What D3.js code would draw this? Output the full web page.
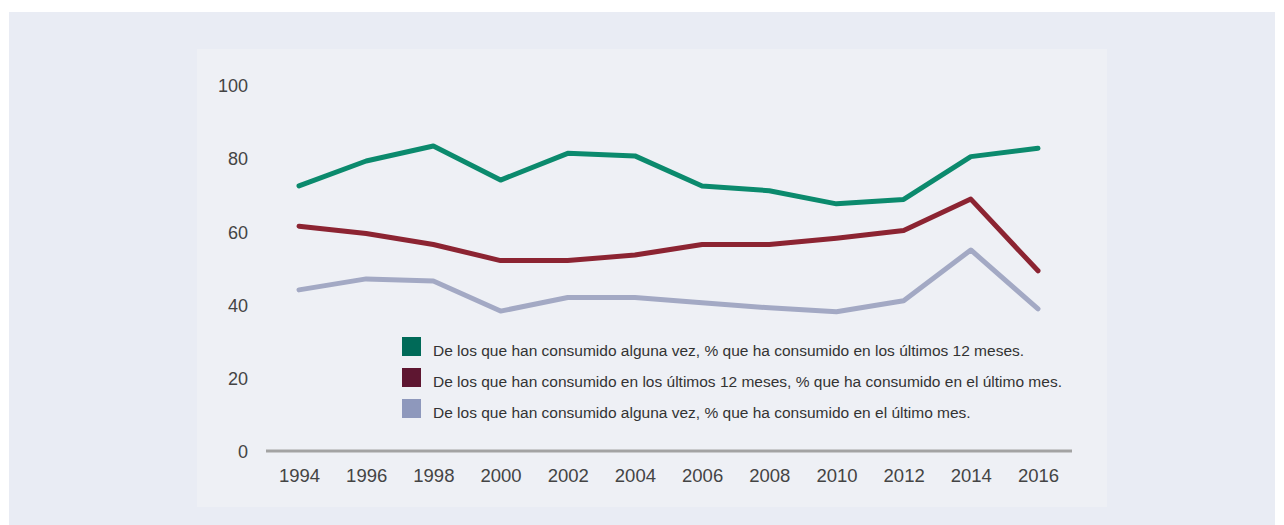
<!DOCTYPE html>
<html><head><meta charset="utf-8">
<script src="https://cdn.jsdelivr.net/npm/d3@7"></script>
<style>
html,body{margin:0;padding:0;background:#fff;}
svg{display:block;font-family:"Liberation Sans",Arial,Helvetica,sans-serif;}
</style></head>
<body>
<svg id="chart" width="1284" height="525"></svg>
<script>
const years = [1994,1996,1998,2000,2002,2004,2006,2008,2010,2012,2014,2016];
const serieAnual = [72.7,79.5,83.6,74.3,81.6,80.9,72.7,71.4,67.8,69.0,80.7,83.0];
const serieMesDeAnual = [61.7,59.7,56.7,52.3,52.3,53.8,56.7,56.7,58.4,60.5,69.1,49.5];
const serieMes = [44.3,47.3,46.7,38.5,42.2,42.2,40.8,39.4,38.3,41.3,55.2,39.1];
const yTicks = [0,20,40,60,80,100];
const legendLabels = [
  "De los que han consumido alguna vez, % que ha consumido en los últimos 12 meses.",
  "De los que han consumido en los últimos 12 meses, % que ha consumido en el último mes.",
  "De los que han consumido alguna vez, % que ha consumido en el último mes."
];
const lineColors = ["#0b8a6d","#8c2432","#a3a9c4"];
const swatchColors = ["#006a58","#5e1631","#8e98bc"];

const svg = d3.select("#chart");
svg.append("rect").attr("x",9).attr("y",12).attr("width",1266).attr("height",513).attr("fill","#e9ecf4");
svg.append("rect").attr("x",197).attr("y",49).attr("width",910).attr("height",458).attr("fill","#eef0f5");

const x = d3.scalePoint().domain(years).range([299,1038]);
const y = d3.scaleLinear().domain([0,100]).range([452,86]);

// baseline
svg.append("line").attr("x1",266).attr("x2",1072).attr("y1",y(0)-1).attr("y2",y(0)-1)
  .attr("stroke","#a3a3a3").attr("stroke-width",3);

// y labels
const yAxis = d3.axisLeft(y).tickValues(yTicks).tickSize(0).tickPadding(0);
const gy = svg.append("g").attr("transform","translate(248,0)").call(yAxis);
gy.select(".domain").remove();
gy.selectAll("text").attr("font-size",18).attr("fill","#444").attr("font-family","Liberation Sans, Arial, sans-serif");

// x labels
const xAxis = d3.axisBottom(x).tickSize(0).tickPadding(0).tickFormat(d3.format("d"));
const gx = svg.append("g").attr("transform","translate(0,469)").call(xAxis);
gx.select(".domain").remove();
gx.selectAll("text").attr("font-size",18.5).attr("fill","#444").attr("font-family","Liberation Sans, Arial, sans-serif");

const series = [serieAnual, serieMesDeAnual, serieMes];
const line = d3.line().x((d,i)=>x(years[i])).y(d=>y(d));
series.slice().reverse().forEach((s,k)=>{
  const i = series.length-1-k;
  svg.append("path").datum(s).attr("d",line).attr("fill","none")
    .attr("stroke",lineColors[i]).attr("stroke-width",5)
    .attr("stroke-linejoin","round").attr("stroke-linecap","round");
});

// legend
const lg = svg.append("g");
legendLabels.forEach((t,i)=>{
  const base = 356 + i*31;
  lg.append("rect").attr("x",402).attr("y",base-19).attr("width",19).attr("height",19).attr("fill",swatchColors[i]);
  lg.append("text").attr("x",433).attr("y",base).attr("font-size",15.5).attr("fill","#333").text(t);
});
</script>
</body></html>
